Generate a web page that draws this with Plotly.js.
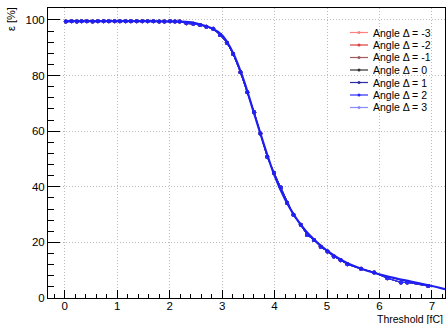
<!DOCTYPE html>
<html>
<head>
<meta charset="utf-8">
<script src="https://cdn.plot.ly/plotly-3.0.1.min.js"></script>
<style>html,body{margin:0;padding:0;background:#fff}#chart{width:448px;height:324px}</style>
</head>
<body>
<div id="chart"></div>
<script>
// ---- data ----
const seriesNames = ["Angle \u0394 = -3","Angle \u0394 = -2","Angle \u0394 = -1","Angle \u0394 = 0","Angle \u0394 = 1","Angle \u0394 = 2","Angle \u0394 = 3"];
const seriesColors = ["#ff8080","#e03c3c","#a05a5a","#303030","#2c2ca8","#2a2aff","#8a8aff"];
const drawOrder = [0,1,2,3,6,4,5];
const threshold = [0.02,0.13,0.23,0.32,0.42,0.53,0.63,0.74,0.84,0.95,1.05,1.16,1.26,1.37,1.48,1.58,1.69,1.80,1.90,2.01,2.10,
  2.19,2.32,2.45,2.58,2.70,2.83,2.96,3.09,3.21,3.35,3.48,3.61,3.73,3.86,3.99,4.12,4.24,4.36,4.50,4.62,4.75,4.88,5.01,5.13,5.26,5.39,
  5.65,5.90,6.15,6.41,6.53,6.93];
const efficiency = [99.4,99.5,99.4,99.5,99.5,99.4,99.5,99.5,99.5,99.5,99.5,99.5,99.5,99.5,99.5,99.5,99.5,99.4,99.4,99.5,99.4,
  99.4,98.8,98.6,98.2,97.6,96.8,94.6,91.8,87.8,81.2,74.0,66.8,59.2,50.8,45.0,39.7,34.2,29.9,26.3,22.7,20.9,18.4,16.7,14.9,13.6,12.1,
  10.5,9.2,7.1,5.6,5.6,4.3];
const fitX = [0.0,0.5,1.0,1.5,2.0,2.3,2.5,2.8,3.0,3.2,3.4,3.6,3.8,4.0,4.2,4.4,4.6,4.8,5.0,5.4,5.8,6.2,6.6,7.0,7.25];
const fitY = [99.6,99.6,99.6,99.6,99.5,99.3,98.8,97.0,94.5,88.5,79.0,67.0,55.0,44.0,35.5,29.0,24.0,20.2,17.0,12.4,9.6,7.5,5.9,4.3,3.2];
const xTitle = "Threshold [fC]";
const yTitle = "\u03b5 [%]";

// ---- layout helpers ----
const W = 448, H = 324, L = 48, R = 445, T = 8, B = 298;
const px = x => (x - L) / (R - L);
const py = y => (B - y) / (B - T);
const FONT = "Liberation Sans, Arial, sans-serif";

const traces = drawOrder.map(i => ({
  type: "scatter", mode: "lines+markers", name: seriesNames[i],
  x: threshold, y: efficiency,
  line: {color: seriesColors[i], width: 1},
  marker: {color: seriesColors[i], size: 4, symbol: "circle"},
  showlegend: false, hoverinfo: "skip"
}));
traces.push({
  type: "scatter", mode: "lines", name: "fit", x: fitX, y: fitY,
  line: {color: "#1e1ef0", width: 2.2, shape: "spline", smoothing: 1.0},
  showlegend: false, hoverinfo: "skip"
});

// manual compact legend (ROOT style)
const shapes = [], annotations = [];
const legY0 = 32.5, legDy = 12.5;
seriesNames.forEach((n, i) => {
  const y = legY0 + i * legDy;
  shapes.push({type: "line", xref: "paper", yref: "paper", x0: px(350), x1: px(368), y0: py(y), y1: py(y),
    line: {color: seriesColors[i], width: 1.2}});
  shapes.push({type: "circle", xref: "paper", yref: "paper", x0: px(357.5), x1: px(360.5), y0: py(y - 1.5), y1: py(y + 1.5),
    fillcolor: seriesColors[i], line: {color: seriesColors[i], width: 0}});
  annotations.push({xref: "paper", yref: "paper", x: px(370.5), y: py(y), xanchor: "left", yanchor: "middle",
    text: n, showarrow: false, font: {family: FONT, size: 10.5, color: "#000"}});
});
annotations.push({xref: "paper", yref: "paper", x: px(445), y: py(319), xanchor: "right", yanchor: "middle",
  text: xTitle, showarrow: false, font: {family: FONT, size: 10.5, color: "#000"}});
annotations.push({xref: "paper", yref: "paper", x: px(11), y: py(19), xanchor: "center", yanchor: "middle",
  text: yTitle, textangle: -90, showarrow: false, font: {family: FONT, size: 11, color: "#000"}});

const layout = {
  width: W, height: H,
  margin: {l: L, r: W - R, t: T, b: H - B, pad: 0},
  paper_bgcolor: "#fff", plot_bgcolor: "#fff",
  showlegend: false,
  font: {family: FONT, size: 12, color: "#000"},
  xaxis: {
    range: [-0.32, 7.25], tick0: 0, dtick: 1, ticks: "inside", ticklen: 8, tickcolor: "#000", tickwidth: 1,
    showline: true, linecolor: "#000", linewidth: 1, mirror: true, zeroline: false,
    showgrid: true, gridcolor: "#bcbcbc", griddash: "1px,2px", gridwidth: 1,
    ticklabelstandoff: -3,
    tickfont: {family: FONT, size: 11.5, color: "#000"},
    minor: {dtick: 0.2, tick0: 0, ticks: "inside", ticklen: 4, tickcolor: "#000", showgrid: false}
  },
  yaxis: {
    range: [0, 104.3], tick0: 0, dtick: 20, ticks: "inside", ticklen: 12, tickcolor: "#000", tickwidth: 1,
    showline: true, linecolor: "#000", linewidth: 1, mirror: true, zeroline: false,
    showgrid: true, gridcolor: "#bcbcbc", griddash: "1px,2px", gridwidth: 1,
    tickfont: {family: FONT, size: 11.5, color: "#000"},
    minor: {dtick: 4, tick0: 0, ticks: "inside", ticklen: 6, tickcolor: "#000", showgrid: false}
  },
  shapes: shapes,
  annotations: annotations
};

Plotly.newPlot("chart", traces, layout, {staticPlot: true, displayModeBar: false});
</script>
</body>
</html>
